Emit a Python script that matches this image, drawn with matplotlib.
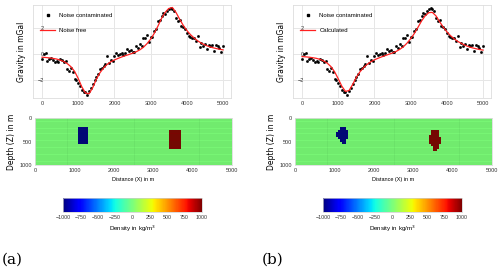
import numpy as np
import matplotlib
matplotlib.use("Agg")
import matplotlib.pyplot as plt

plt.rcParams['font.family'] = ['Liberation Sans', 'DejaVu Sans']

# stations (m)
x_obs = np.arange(0, 5001, 50)
x_curve = np.arange(0, 5001, 100)

# noise contaminated gravity (mGal), one value per 50 m station
g_noisy = [-0.42, 0.02, 0.05, -0.55, -0.38, -0.30, -0.48, -0.60, -0.52, -0.65,
           -0.40, -0.45, -0.62, -0.55, -1.20, -1.30, -1.10, -1.40, -1.95, -2.05,
           -2.25, -2.50, -2.80, -2.95, -2.92, -3.15, -2.90, -2.60, -2.35, -2.00,
           -1.80, -1.55, -1.20, -1.10, -0.95, -0.80, -0.15, -0.70, -0.45, -0.55,
           -0.15, 0.05, -0.05, 0.00, 0.10, -0.08, 0.05, 0.35, 0.20, 0.28,
           0.12, 0.18, 0.62, 0.50, 0.75, 0.60, 1.25, 1.20, 1.50, 0.95,
           1.30, 1.35, 1.80, 1.95, 2.55, 2.65, 2.95, 3.20, 3.10, 3.35,
           3.50, 3.55, 3.45, 3.30, 2.75, 2.55, 2.60, 2.20, 2.10, 1.95,
           1.62, 1.40, 1.35, 1.20, 1.22, 1.00, 1.42, 0.55, 0.85, 0.65,
           0.75, 0.42, 0.72, 0.62, 0.70, 0.20, 0.72, 0.60, 0.50, 0.15,
           0.60]

# noise free response (a), every 100 m
g_free = [-0.25, -0.27, -0.30, -0.34, -0.39, -0.47, -0.58, -0.75, -0.99, -1.35,
          -1.90, -2.55, -3.02, -3.08, -2.60, -1.95, -1.45, -1.08, -0.80, -0.60,
          -0.46, -0.34, -0.23, -0.13, -0.04, 0.06, 0.17, 0.32, 0.52, 0.80,
          1.15, 1.60, 2.15, 2.75, 3.22, 3.52, 3.60, 3.22, 2.70, 2.22,
          1.82, 1.50, 1.24, 1.02, 0.84, 0.70, 0.59, 0.50, 0.43, 0.37,
          0.32]

# calculated response of the inverted model (b), every 100 m
g_calc = [-0.20, -0.22, -0.25, -0.29, -0.34, -0.42, -0.54, -0.72, -0.98, -1.38,
          -1.92, -2.50, -2.90, -2.82, -2.35, -1.80, -1.38, -1.05, -0.80, -0.60,
          -0.45, -0.33, -0.22, -0.12, -0.02, 0.08, 0.20, 0.36, 0.56, 0.84,
          1.18, 1.58, 2.05, 2.55, 2.95, 3.20, 3.22, 2.95, 2.50, 2.08,
          1.72, 1.42, 1.18, 0.98, 0.82, 0.68, 0.57, 0.48, 0.41, 0.35,
          0.30]

# model grid: 50 m cells
cell = 50
x_edges = np.arange(0, 5001, cell)
z_edges = np.arange(0, 1001, cell)

# true model blocks: (x0, x1, z0, z1, density)
true_blocks = [(1100, 1350, 200, 550, -1000),
               (3400, 3700, 250, 650, 1000)]

# inverted model: per depth row from top -> (x0, x1)
inv_blue_top = 200
inv_blue_rows = [(1150, 1300), (1100, 1350), (1050, 1350), (1050, 1350),
                 (1100, 1350), (1150, 1300), (1200, 1300)]
inv_red_top = 250
inv_red_rows = [(3450, 3650), (3450, 3650), (3400, 3650), (3400, 3700),
                (3400, 3700), (3400, 3700), (3450, 3650), (3500, 3650),
                (3500, 3600)]

cbar_ticks = [-1000, -750, -500, -250, 0, 250, 500, 750, 1000]


def model_from_blocks(blocks):
    rho = np.zeros((len(z_edges) - 1, len(x_edges) - 1))
    xc = x_edges[:-1] + cell / 2
    zc = z_edges[:-1] + cell / 2
    for x0, x1, z0, z1, d in blocks:
        rho[np.ix_((zc > z0) & (zc < z1), (xc > x0) & (xc < x1))] = d
    return rho


def model_from_rows(rows_list):
    blocks = []
    for top, rows, d in rows_list:
        for i, (x0, x1) in enumerate(rows):
            blocks.append((x0, x1, top + i * cell, top + (i + 1) * cell, d))
    return model_from_blocks(blocks)


def style_axes(ax):
    for s in ax.spines.values():
        s.set_color("#dddddd")
        s.set_linewidth(0.6)
    ax.tick_params(labelsize=4, colors="#333333", length=0, pad=2)


def draw_panel(fig, left, curve, curve_label, rho, tag):
    ax = fig.add_axes([left, 0.640, 0.396, 0.342])
    ax.grid(color="#e6e6e6", linewidth=0.7)
    ax.set_axisbelow(True)
    ax.plot(x_obs, g_noisy, "s", color="black", markersize=0.9,
            label="Noise contaminated")
    ax.plot(x_curve, curve, "-", color="#ff2020", linewidth=0.9,
            label=curve_label)
    ax.set_xlim(-250, 5220)
    ax.set_ylim(-3.4, 3.8)
    ax.set_xticks([0, 1000, 2000, 3000, 4000, 5000])
    ax.set_yticks([-2, 0, 2])
    style_axes(ax)
    ax.tick_params(axis="y", pad=-8)
    ax.set_ylabel("Gravity in mGal", fontsize=5.5, family="DejaVu Sans")
    ax.yaxis.set_label_coords(-0.035, 0.5)
    ax.legend(loc="upper left", bbox_to_anchor=(0.01, 0.97), fontsize=4.3,
              frameon=False, handlelength=2.4, markerscale=1.6,
              labelspacing=1.6)

    axm = fig.add_axes([left + 0.004, 0.393, 0.394, 0.173])
    mesh = axm.pcolormesh(x_edges, z_edges, rho, cmap="jet", vmin=-1000,
                          vmax=1000)
    axm.vlines(x_edges, 0, 1000, color="#1a5a1a", linewidth=0.25, alpha=0.35)
    axm.hlines(z_edges, 0, 5000, color="#1a5a1a", linewidth=0.25, alpha=0.35)
    axm.set_xlim(0, 5000)
    axm.set_ylim(1000, 0)
    axm.set_xticks([0, 1000, 2000, 3000, 4000, 5000])
    axm.set_yticks([0, 500, 1000])
    axm.set_xlabel("Distance (X) in m", fontsize=4, labelpad=3)
    axm.set_ylabel("Depth (Z) in m", fontsize=5.5, family="DejaVu Sans",
                   labelpad=3)
    style_axes(axm)

    cax = fig.add_axes([left + 0.06, 0.221, 0.278, 0.051])
    cb = fig.colorbar(mesh, cax=cax, orientation="horizontal",
                      ticks=cbar_ticks)
    cb.outline.set_edgecolor("#cccccc")
    cb.outline.set_linewidth(0.5)
    cax.tick_params(labelsize=3.8, length=0, pad=2, colors="#333333")
    cb.set_label("Density in kg/m$^3$", fontsize=4.5, labelpad=3)

    fig.text(left - 0.062, 0.03, tag, fontsize=11, family="DejaVu Serif")


fig = plt.figure(figsize=(5.0, 2.72), dpi=100)
rho_true = model_from_blocks(true_blocks)
rho_inv = model_from_rows([(inv_blue_top, inv_blue_rows, -1000),
                           (inv_red_top, inv_red_rows, 1000)])
draw_panel(fig, 0.066, g_free, "Noise free", rho_true, "(a)")
draw_panel(fig, 0.586, g_calc, "Calculated", rho_inv, "(b)")
fig.savefig("out.png", dpi=100)
